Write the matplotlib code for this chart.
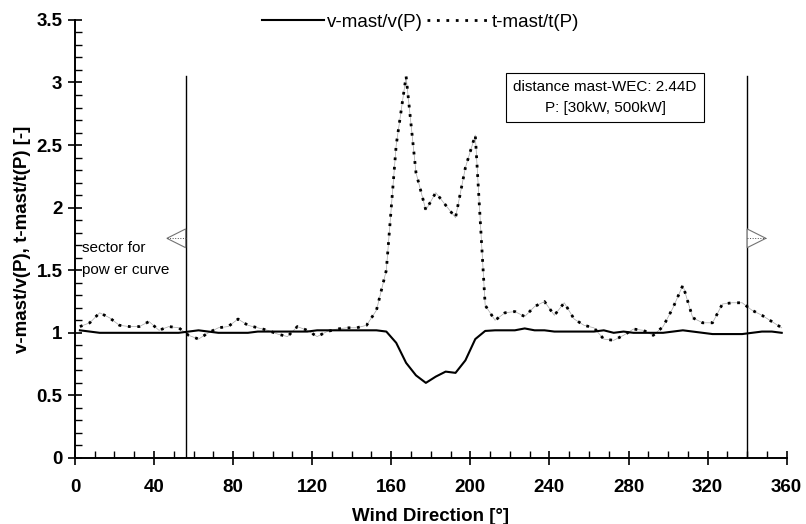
import numpy as np
import matplotlib
matplotlib.use("Agg")
import matplotlib.pyplot as plt
from matplotlib.patches import Polygon
from matplotlib.ticker import MultipleLocator

plt.rcParams['font.family'] = ['Liberation Sans', 'DejaVu Sans']

# wind direction bins (deg)
direction = np.arange(2.5, 360, 5.0)

v_ratio = [1.02, 1.01, 1.0, 1.0, 1.0, 1.0, 1.0, 1.0, 1.0, 1.0, 1.0, 1.01,
           1.02, 1.01, 1.0, 1.0, 1.0, 1.0, 1.01, 1.01, 1.01, 1.01, 1.01, 1.01,
           1.02, 1.02, 1.02, 1.02, 1.02, 1.02, 1.02, 1.01, 0.92, 0.76, 0.66, 0.60,
           0.65, 0.69, 0.68, 0.78, 0.95, 1.015, 1.02, 1.02, 1.02, 1.035, 1.02, 1.02,
           1.01, 1.01, 1.01, 1.01, 1.01, 1.02, 1.0, 1.01, 1.0, 1.0, 1.0, 1.0,
           1.01, 1.02, 1.01, 1.0, 0.99, 0.99, 0.99, 0.99, 1.0, 1.01, 1.01, 1.0]

t_ratio = [1.05, 1.08, 1.16, 1.12, 1.06, 1.05, 1.05, 1.09, 1.02, 1.05, 1.04, 0.98,
           0.95, 1.0, 1.04, 1.05, 1.11, 1.06, 1.04, 1.02, 0.99, 0.97, 1.05, 1.02,
           0.97, 1.01, 1.03, 1.04, 1.04, 1.06, 1.18, 1.5, 2.5, 3.05, 2.28, 1.98,
           2.12, 2.02, 1.92, 2.32, 2.58, 1.22, 1.10, 1.16, 1.17, 1.13, 1.21, 1.25,
           1.14, 1.24, 1.11, 1.06, 1.04, 0.95, 0.94, 0.98, 1.03, 1.02, 0.98, 1.05,
           1.2, 1.38, 1.12, 1.08, 1.08, 1.23, 1.24, 1.24, 1.18, 1.14, 1.09, 1.04]

sector = [56, 340]

fig = plt.figure(figsize=(8.06, 5.24), dpi=100)
ax = fig.add_axes([0.093, 0.126, 0.883, 0.836])

ax.plot(direction, t_ratio, color='0.65', lw=0.5, zorder=2)
l1, = ax.plot(direction, v_ratio, color='black', lw=1.5, zorder=3)
l2, = ax.plot(direction, t_ratio, color='black', lw=2, ls=(0, (1, 2.4)), zorder=3)

# sector borders
for s in sector:
    ax.plot([s, s], [0, 3.05], color='black', lw=1, zorder=2)

# arrows marking the sector
for s, d in [(sector[0], -1), (sector[1], 1)]:
    tri = Polygon([[s, 1.68], [s + d * 9.5, 1.755], [s, 1.83]], closed=True,
                  facecolor='white', edgecolor='0.45', lw=0.8, zorder=4)
    ax.add_patch(tri)
    ax.plot([s, s + d * 9.5], [1.755, 1.755], color='0.3', lw=0.7, ls=':', zorder=5)

ax.text(3.5, 1.59, 'sector for\npow er curve', fontsize=11, ha='left', va='center',
        linespacing=1.65)

ax.text(268.2, 2.88, 'distance mast-WEC: 2.44D\nP: [30kW, 500kW]', fontsize=11,
        ha='center', va='center', linespacing=1.55,
        bbox=dict(boxstyle='square,pad=0.5', facecolor='white', edgecolor='black', lw=0.8))

ax.set_xlim(0, 360)
ax.set_ylim(0, 3.5)
ax.xaxis.set_major_locator(MultipleLocator(40))
ax.xaxis.set_minor_locator(MultipleLocator(10))
ax.yaxis.set_minor_locator(MultipleLocator(0.1))
ax.set_yticks(np.arange(0, 3.51, 0.5))
ax.set_yticklabels(['0', '0.5', '1', '1.5', '2', '2.5', '3', '3.5'])

ax.tick_params(which='major', direction='inout', length=10, width=1.2, labelsize=13.5, pad=4)
ax.tick_params(which='minor', direction='in', length=5, width=1)
for lab in ax.get_xticklabels() + ax.get_yticklabels():
    lab.set_fontweight('bold')
ax.tick_params(axis='x', pad=10)

for sp in ['top', 'right']:
    ax.spines[sp].set_visible(False)
for sp in ['left', 'bottom']:
    ax.spines[sp].set_linewidth(1.4)

ax.set_xlabel('Wind Direction [°]', fontsize=13.5, fontweight='bold', labelpad=9)
ax.set_ylabel('v-mast/v(P), t-mast/t(P) [-]', fontsize=13.5, fontweight='bold', labelpad=4)

fig.legend([l1, l2], ['v-mast/v(P)', 't-mast/t(P)'], loc='center', ncol=2,
           bbox_to_anchor=(0.522, 0.958), frameon=False, fontsize=13.5,
           handlelength=3.3, handletextpad=0.15, columnspacing=0.25)

fig.savefig('out.png', dpi=100)
